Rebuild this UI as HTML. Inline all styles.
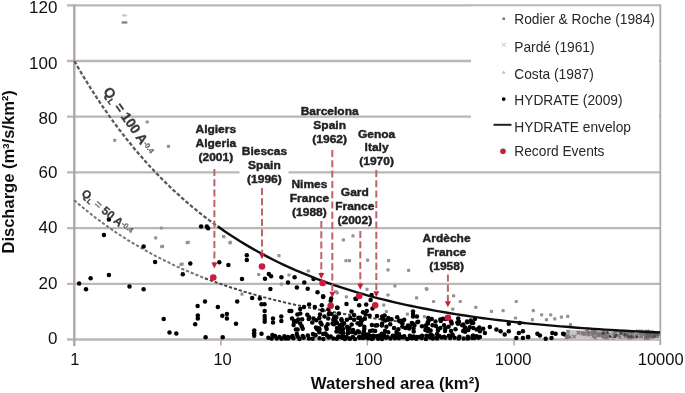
<!DOCTYPE html>
<html><head><meta charset="utf-8"><style>
html,body{margin:0;padding:0;background:#fff;}
body{width:685px;height:393px;overflow:hidden;position:relative;font-family:"Liberation Sans",sans-serif;}
svg{position:absolute;left:0;top:0;}
</style></head><body>
<svg width="685" height="393" viewBox="0 0 685 393" font-family="Liberation Sans, sans-serif">
<defs><filter id="b" x="0" y="0" width="1" height="1"><feGaussianBlur stdDeviation="0.55"/></filter></defs>
<g filter="url(#b)">
<rect width="685" height="393" fill="#fff"/>
<line x1="67" y1="339.5" x2="660.5" y2="339.5" stroke="#bcb6b5" stroke-width="2.3"/>
<line x1="67" y1="283.8" x2="660.5" y2="283.8" stroke="#bcb6b5" stroke-width="2.3"/>
<line x1="67" y1="228.1" x2="660.5" y2="228.1" stroke="#bcb6b5" stroke-width="2.3"/>
<line x1="67" y1="172.4" x2="660.5" y2="172.4" stroke="#bcb6b5" stroke-width="2.3"/>
<line x1="67" y1="116.7" x2="660.5" y2="116.7" stroke="#bcb6b5" stroke-width="2.3"/>
<line x1="67" y1="61.0" x2="660.5" y2="61.0" stroke="#bcb6b5" stroke-width="2.3"/>
<line x1="67" y1="5.3" x2="660.5" y2="5.3" stroke="#bcb6b5" stroke-width="2.3"/>
<line x1="74.3" y1="4.5" x2="74.3" y2="346" stroke="#b0a6a6" stroke-width="2.4"/>
<line x1="660.3" y1="4.5" x2="660.3" y2="345" stroke="#b0a8a8" stroke-width="1.8"/>
<line x1="220.9" y1="339" x2="220.9" y2="345.5" stroke="#b8a0a0" stroke-width="1.5"/>
<line x1="367.4" y1="339" x2="367.4" y2="345.5" stroke="#b8a0a0" stroke-width="1.5"/>
<line x1="514.0" y1="339" x2="514.0" y2="345.5" stroke="#b8a0a0" stroke-width="1.5"/>
<rect x="113.1" y="138.7" width="3.2" height="3.2" rx="0.8" fill="#9a9194"/>
<rect x="166.9" y="144.8" width="3.2" height="3.2" rx="0.8" fill="#9a9194"/>
<rect x="145.6" y="120.4" width="3.2" height="3.2" rx="0.8" fill="#9a9194"/>
<rect x="159.8" y="226.4" width="3.2" height="3.2" rx="0.8" fill="#9a9194"/>
<rect x="185.6" y="241.0" width="3.2" height="3.2" rx="0.8" fill="#9a9194"/>
<rect x="160.1" y="245.1" width="3.2" height="3.2" rx="0.8" fill="#9a9194"/>
<rect x="154.1" y="236.2" width="3.2" height="3.2" rx="0.8" fill="#9a9194"/>
<rect x="228.4" y="241.3" width="3.2" height="3.2" rx="0.8" fill="#9a9194"/>
<rect x="222.2" y="235.1" width="3.2" height="3.2" rx="0.8" fill="#9a9194"/>
<rect x="179.3" y="262.9" width="3.2" height="3.2" rx="0.8" fill="#9a9194"/>
<rect x="240.4" y="292.6" width="3.2" height="3.2" rx="0.8" fill="#9a9194"/>
<rect x="257.1" y="272.9" width="3.2" height="3.2" rx="0.8" fill="#9a9194"/>
<rect x="279.8" y="282.6" width="3.2" height="3.2" rx="0.8" fill="#9a9194"/>
<rect x="287.4" y="273.4" width="3.2" height="3.2" rx="0.8" fill="#9a9194"/>
<rect x="306.7" y="269.4" width="3.2" height="3.2" rx="0.8" fill="#9a9194"/>
<rect x="334.2" y="290.0" width="3.2" height="3.2" rx="0.8" fill="#9a9194"/>
<rect x="344.4" y="259.1" width="3.2" height="3.2" rx="0.8" fill="#9a9194"/>
<rect x="347.9" y="259.1" width="3.2" height="3.2" rx="0.8" fill="#9a9194"/>
<rect x="366.0" y="258.5" width="3.2" height="3.2" rx="0.8" fill="#9a9194"/>
<rect x="335.7" y="291.2" width="3.2" height="3.2" rx="0.8" fill="#9a9194"/>
<rect x="365.4" y="287.7" width="3.2" height="3.2" rx="0.8" fill="#9a9194"/>
<rect x="344.8" y="295.2" width="3.2" height="3.2" rx="0.8" fill="#9a9194"/>
<rect x="387.0" y="259.1" width="3.2" height="3.2" rx="0.8" fill="#9a9194"/>
<rect x="386.4" y="268.3" width="3.2" height="3.2" rx="0.8" fill="#9a9194"/>
<rect x="407.0" y="268.8" width="3.2" height="3.2" rx="0.8" fill="#9a9194"/>
<rect x="393.3" y="284.3" width="3.2" height="3.2" rx="0.8" fill="#9a9194"/>
<rect x="424.7" y="287.2" width="3.2" height="3.2" rx="0.8" fill="#9a9194"/>
<rect x="386.4" y="293.4" width="3.2" height="3.2" rx="0.8" fill="#9a9194"/>
<rect x="415.0" y="296.3" width="3.2" height="3.2" rx="0.8" fill="#9a9194"/>
<rect x="382.2" y="303.6" width="3.2" height="3.2" rx="0.8" fill="#9a9194"/>
<rect x="384.8" y="309.9" width="3.2" height="3.2" rx="0.8" fill="#9a9194"/>
<rect x="422.9" y="315.0" width="3.2" height="3.2" rx="0.8" fill="#9a9194"/>
<rect x="405.8" y="312.5" width="3.2" height="3.2" rx="0.8" fill="#9a9194"/>
<rect x="425.3" y="287.5" width="3.2" height="3.2" rx="0.8" fill="#9a9194"/>
<rect x="432.0" y="299.9" width="3.2" height="3.2" rx="0.8" fill="#9a9194"/>
<rect x="452.0" y="294.2" width="3.2" height="3.2" rx="0.8" fill="#9a9194"/>
<rect x="458.7" y="299.9" width="3.2" height="3.2" rx="0.8" fill="#9a9194"/>
<rect x="451.1" y="307.5" width="3.2" height="3.2" rx="0.8" fill="#9a9194"/>
<rect x="474.2" y="305.7" width="3.2" height="3.2" rx="0.8" fill="#9a9194"/>
<rect x="489.9" y="309.8" width="3.2" height="3.2" rx="0.8" fill="#9a9194"/>
<rect x="501.5" y="309.0" width="3.2" height="3.2" rx="0.8" fill="#9a9194"/>
<rect x="514.7" y="299.9" width="3.2" height="3.2" rx="0.8" fill="#9a9194"/>
<rect x="513.9" y="316.4" width="3.2" height="3.2" rx="0.8" fill="#9a9194"/>
<rect x="531.7" y="309.0" width="3.2" height="3.2" rx="0.8" fill="#9a9194"/>
<rect x="540.0" y="313.2" width="3.2" height="3.2" rx="0.8" fill="#9a9194"/>
<rect x="549.1" y="313.2" width="3.2" height="3.2" rx="0.8" fill="#9a9194"/>
<rect x="544.9" y="318.1" width="3.2" height="3.2" rx="0.8" fill="#9a9194"/>
<rect x="553.2" y="317.3" width="3.2" height="3.2" rx="0.8" fill="#9a9194"/>
<rect x="559.8" y="315.6" width="3.2" height="3.2" rx="0.8" fill="#9a9194"/>
<rect x="566.1" y="314.8" width="3.2" height="3.2" rx="0.8" fill="#9a9194"/>
<rect x="530.8" y="318.1" width="3.2" height="3.2" rx="0.8" fill="#9a9194"/>
<rect x="568.9" y="323.1" width="3.2" height="3.2" rx="0.8" fill="#9a9194"/>
<rect x="573.1" y="331.4" width="3.2" height="3.2" rx="0.8" fill="#9a9194"/>
<rect x="581.4" y="331.4" width="3.2" height="3.2" rx="0.8" fill="#9a9194"/>
<rect x="589.6" y="332.2" width="3.2" height="3.2" rx="0.8" fill="#9a9194"/>
<rect x="341.8" y="238.3" width="3.2" height="3.2" rx="0.8" fill="#9a9194"/>
<rect x="351.4" y="234.3" width="3.2" height="3.2" rx="0.8" fill="#9a9194"/>
<rect x="222.0" y="234.9" width="3.2" height="3.2" rx="0.8" fill="#9a9194"/>
<rect x="228.7" y="240.7" width="3.2" height="3.2" rx="0.8" fill="#9a9194"/>
<rect x="277.4" y="254.0" width="3.2" height="3.2" rx="0.8" fill="#9a9194"/>
<rect x="160.9" y="244.8" width="3.2" height="3.2" rx="0.8" fill="#9a9194"/>
<rect x="186.6" y="240.8" width="3.2" height="3.2" rx="0.8" fill="#9a9194"/>
<rect x="180.5" y="262.5" width="3.2" height="3.2" rx="0.8" fill="#9a9194"/>
<path d="M74.3,61.0 L76.2,64.2 L78.0,67.4 L79.9,70.6 L81.7,73.7 L83.6,76.8 L85.5,79.9 L87.3,82.9 L89.2,85.8 L91.0,88.8 L92.9,91.7 L94.7,94.6 L96.6,97.4 L98.5,100.2 L100.3,103.0 L102.2,105.8 L104.0,108.5 L105.9,111.2 L107.8,113.8 L109.6,116.4 L111.5,119.0 L113.3,121.6 L115.2,124.1 L117.1,126.6 L118.9,129.1 L120.8,131.5 L122.6,133.9 L124.5,136.3 L126.3,138.7 L128.2,141.0 L130.1,143.3 L131.9,145.6 L133.8,147.9 L135.6,150.1 L137.5,152.3 L139.4,154.5 L141.2,156.6 L143.1,158.7 L144.9,160.8 L146.8,162.9 L148.6,165.0 L150.5,167.0 L152.4,169.0 L154.2,171.0 L156.1,172.9 L157.9,174.9 L159.8,176.8 L161.7,178.7 L163.5,180.5 L165.4,182.4 L167.2,184.2 L169.1,186.0 L171.0,187.8 L172.8,189.6 L174.7,191.3 L176.5,193.0 L178.4,194.7 L180.2,196.4 L182.1,198.1 L184.0,199.7 L185.8,201.3 L187.7,202.9 L189.5,204.5 L191.4,206.1 L193.3,207.6 L195.1,209.2 L197.0,210.7 L198.8,212.2 L200.7,213.7 L202.6,215.1 L204.4,216.6 L206.3,218.0 L208.1,219.4 L210.0,220.8 L211.8,222.2 L213.7,223.5 L215.6,224.9 L217.4,226.2 L219.3,227.5 L221.1,228.8 L223.0,230.1" fill="none" stroke="#5e5858" stroke-width="2.3" stroke-dasharray="3.8 2"/>
<path d="M74.3,200.2 L75.9,201.7 L77.6,203.1 L79.2,204.5 L80.8,205.9 L82.5,207.2 L84.1,208.6 L85.7,209.9 L87.4,211.2 L89.0,212.5 L90.6,213.8 L92.3,215.1 L93.9,216.4 L95.5,217.7 L97.2,218.9 L98.8,220.1 L100.4,221.3 L102.1,222.6 L103.7,223.7 L105.3,224.9 L107.0,226.1 L108.6,227.3 L110.2,228.4 L111.9,229.5 L113.5,230.7 L115.1,231.8 L116.8,232.9 L118.4,234.0 L120.0,235.0 L121.7,236.1 L123.3,237.2 L124.9,238.2 L126.6,239.2 L128.2,240.3 L129.8,241.3 L131.5,242.3 L133.1,243.3 L134.7,244.3 L136.4,245.2 L138.0,246.2 L139.6,247.2 L141.3,248.1 L142.9,249.0 L144.6,250.0 L146.2,250.9 L147.8,251.8 L149.5,252.7 L151.1,253.6 L152.7,254.4 L154.4,255.3 L156.0,256.2 L157.6,257.0 L159.3,257.9 L160.9,258.7 L162.5,259.5 L164.2,260.3 L165.8,261.1 L167.4,261.9 L169.1,262.7 L170.7,263.5 L172.3,264.3 L174.0,265.1 L175.6,265.8 L177.2,266.6 L178.9,267.3 L180.5,268.1 L182.1,268.8 L183.8,269.5 L185.4,270.2 L187.0,270.9 L188.7,271.6 L190.3,272.3 L191.9,273.0 L193.6,273.7 L195.2,274.4 L196.8,275.0 L198.5,275.7 L200.1,276.3 L201.7,277.0 L203.4,277.6 L205.0,278.3" fill="none" stroke="#7a7272" stroke-width="2" stroke-dasharray="3.2 1.9"/>
<path d="M205.0,278.3 L207.4,279.2 L209.9,280.1 L212.3,281.0 L214.8,281.9 L217.2,282.8 L219.6,283.6 L222.1,284.5 L224.5,285.3 L226.9,286.1 L229.4,287.0 L231.8,287.8 L234.2,288.5 L236.7,289.3 L239.1,290.1 L241.6,290.8 L244.0,291.6 L246.4,292.3 L248.9,293.0 L251.3,293.7 L253.8,294.4 L256.2,295.1 L258.6,295.8 L261.1,296.4 L263.5,297.1 L265.9,297.7 L268.4,298.4 L270.8,299.0 L273.2,299.6 L275.7,300.2 L278.1,300.8 L280.6,301.4 L283.0,302.0 L285.4,302.6 L287.9,303.1 L290.3,303.7 L292.8,304.2 L295.2,304.8 L297.6,305.3 L300.1,305.8 L302.5,306.3 L304.9,306.8 L307.4,307.3 L309.8,307.8 L312.2,308.3 L314.7,308.8 L317.1,309.2 L319.6,309.7 L322.0,310.1 L324.4,310.6 L326.9,311.0 L329.3,311.5 L331.8,311.9 L334.2,312.3 L336.6,312.7 L339.1,313.1 L341.5,313.5 L343.9,313.9 L346.4,314.3 L348.8,314.7 L351.2,315.1 L353.7,315.4 L356.1,315.8 L358.6,316.2 L361.0,316.5 L363.4,316.9 L365.9,317.2 L368.3,317.6 L370.8,317.9 L373.2,318.2 L375.6,318.5 L378.1,318.9 L380.5,319.2 L382.9,319.5 L385.4,319.8 L387.8,320.1 L390.2,320.4 L392.7,320.7 L395.1,321.0 L397.6,321.2 L400.0,321.5" fill="none" stroke="#4a4444" stroke-width="2" stroke-dasharray="3.2 1.9"/>
<circle cx="108.9" cy="219.5" r="2.25" fill="#000"/>
<circle cx="103.9" cy="235.1" r="2.25" fill="#000"/>
<circle cx="143.6" cy="246.6" r="2.25" fill="#000"/>
<circle cx="201.1" cy="226.5" r="2.25" fill="#000"/>
<circle cx="206.8" cy="226.5" r="2.25" fill="#000"/>
<circle cx="208.1" cy="228.3" r="2.25" fill="#000"/>
<circle cx="79.1" cy="283.6" r="2.25" fill="#000"/>
<circle cx="90.6" cy="278.3" r="2.25" fill="#000"/>
<circle cx="86.0" cy="289.3" r="2.25" fill="#000"/>
<circle cx="108.9" cy="275.1" r="2.25" fill="#000"/>
<circle cx="129.5" cy="286.6" r="2.25" fill="#000"/>
<circle cx="143.6" cy="289.3" r="2.25" fill="#000"/>
<circle cx="155.1" cy="261.9" r="2.25" fill="#000"/>
<circle cx="163.7" cy="319.0" r="2.25" fill="#000"/>
<circle cx="169.5" cy="332.5" r="2.25" fill="#000"/>
<circle cx="176.3" cy="333.4" r="2.25" fill="#000"/>
<circle cx="190.3" cy="263.5" r="2.25" fill="#000"/>
<circle cx="182.8" cy="274.2" r="2.25" fill="#000"/>
<circle cx="219.3" cy="262.3" r="2.25" fill="#000"/>
<circle cx="228.4" cy="265.0" r="2.25" fill="#000"/>
<circle cx="246.8" cy="255.3" r="2.25" fill="#000"/>
<circle cx="246.8" cy="260.1" r="2.25" fill="#000"/>
<circle cx="242.0" cy="279.0" r="2.25" fill="#000"/>
<circle cx="205.0" cy="301.4" r="2.25" fill="#000"/>
<circle cx="197.6" cy="306.1" r="2.25" fill="#000"/>
<circle cx="217.8" cy="307.1" r="2.25" fill="#000"/>
<circle cx="197.8" cy="315.5" r="2.25" fill="#000"/>
<circle cx="197.8" cy="318.5" r="2.25" fill="#000"/>
<circle cx="222.3" cy="315.7" r="2.25" fill="#000"/>
<circle cx="226.9" cy="314.0" r="2.25" fill="#000"/>
<circle cx="226.9" cy="318.4" r="2.25" fill="#000"/>
<circle cx="237.2" cy="301.5" r="2.25" fill="#000"/>
<circle cx="195.2" cy="324.3" r="2.25" fill="#000"/>
<circle cx="236.0" cy="323.7" r="2.25" fill="#000"/>
<circle cx="205.6" cy="337.2" r="2.25" fill="#000"/>
<circle cx="222.7" cy="337.2" r="2.25" fill="#000"/>
<circle cx="268.8" cy="273.9" r="2.25" fill="#000"/>
<circle cx="271.1" cy="276.2" r="2.25" fill="#000"/>
<circle cx="265.0" cy="278.8" r="2.25" fill="#000"/>
<circle cx="281.4" cy="277.3" r="2.25" fill="#000"/>
<circle cx="288.0" cy="282.5" r="2.25" fill="#000"/>
<circle cx="270.4" cy="289.1" r="2.25" fill="#000"/>
<circle cx="252.2" cy="298.1" r="2.25" fill="#000"/>
<circle cx="259.8" cy="298.6" r="2.25" fill="#000"/>
<circle cx="261.5" cy="304.2" r="2.25" fill="#000"/>
<circle cx="264.5" cy="304.2" r="2.25" fill="#000"/>
<circle cx="264.7" cy="310.9" r="2.25" fill="#000"/>
<circle cx="264.7" cy="316.0" r="2.25" fill="#000"/>
<circle cx="264.7" cy="319.0" r="2.25" fill="#000"/>
<circle cx="264.7" cy="321.7" r="2.25" fill="#000"/>
<circle cx="273.0" cy="318.5" r="2.25" fill="#000"/>
<circle cx="273.0" cy="322.4" r="2.25" fill="#000"/>
<circle cx="281.3" cy="316.6" r="2.25" fill="#000"/>
<circle cx="281.3" cy="321.1" r="2.25" fill="#000"/>
<circle cx="289.5" cy="310.9" r="2.25" fill="#000"/>
<circle cx="294.0" cy="321.7" r="2.25" fill="#000"/>
<circle cx="254.2" cy="330.6" r="2.25" fill="#000"/>
<circle cx="254.2" cy="333.2" r="2.25" fill="#000"/>
<circle cx="254.2" cy="335.7" r="2.25" fill="#000"/>
<circle cx="261.5" cy="333.8" r="2.25" fill="#000"/>
<circle cx="272.4" cy="335.0" r="2.25" fill="#000"/>
<circle cx="275.0" cy="336.0" r="2.25" fill="#000"/>
<circle cx="279.4" cy="337.0" r="2.25" fill="#000"/>
<circle cx="284.4" cy="336.3" r="2.25" fill="#000"/>
<circle cx="288.0" cy="337.0" r="2.25" fill="#000"/>
<circle cx="292.0" cy="337.0" r="2.25" fill="#000"/>
<circle cx="294.6" cy="277.3" r="2.25" fill="#000"/>
<circle cx="304.3" cy="282.5" r="2.25" fill="#000"/>
<circle cx="296.9" cy="287.6" r="2.25" fill="#000"/>
<circle cx="307.7" cy="288.8" r="2.25" fill="#000"/>
<circle cx="313.5" cy="279.0" r="2.25" fill="#000"/>
<circle cx="317.5" cy="292.2" r="2.25" fill="#000"/>
<circle cx="323.2" cy="296.2" r="2.25" fill="#000"/>
<circle cx="331.2" cy="298.5" r="2.25" fill="#000"/>
<circle cx="323.1" cy="296.9" r="2.25" fill="#000"/>
<circle cx="330.7" cy="300.7" r="2.25" fill="#000"/>
<circle cx="337.1" cy="307.7" r="2.25" fill="#000"/>
<circle cx="309.1" cy="304.5" r="2.25" fill="#000"/>
<circle cx="304.0" cy="307.1" r="2.25" fill="#000"/>
<circle cx="300.2" cy="309.0" r="2.25" fill="#000"/>
<circle cx="314.8" cy="307.1" r="2.25" fill="#000"/>
<circle cx="321.8" cy="305.2" r="2.25" fill="#000"/>
<circle cx="322.4" cy="310.3" r="2.25" fill="#000"/>
<circle cx="291.3" cy="310.9" r="2.25" fill="#000"/>
<circle cx="309.1" cy="317.3" r="2.25" fill="#000"/>
<circle cx="313.5" cy="318.5" r="2.25" fill="#000"/>
<circle cx="319.3" cy="317.9" r="2.25" fill="#000"/>
<circle cx="324.4" cy="316.6" r="2.25" fill="#000"/>
<circle cx="312.3" cy="322.4" r="2.25" fill="#000"/>
<circle cx="320.5" cy="322.4" r="2.25" fill="#000"/>
<circle cx="328.2" cy="318.5" r="2.25" fill="#000"/>
<circle cx="335.2" cy="316.6" r="2.25" fill="#000"/>
<circle cx="333.9" cy="324.3" r="2.25" fill="#000"/>
<circle cx="337.1" cy="328.1" r="2.25" fill="#000"/>
<circle cx="294.5" cy="321.1" r="2.25" fill="#000"/>
<circle cx="300.2" cy="323.6" r="2.25" fill="#000"/>
<circle cx="297.6" cy="329.4" r="2.25" fill="#000"/>
<circle cx="302.7" cy="328.7" r="2.25" fill="#000"/>
<circle cx="292.5" cy="336.0" r="2.25" fill="#000"/>
<circle cx="297.6" cy="336.6" r="2.25" fill="#000"/>
<circle cx="302.7" cy="336.0" r="2.25" fill="#000"/>
<circle cx="307.8" cy="335.4" r="2.25" fill="#000"/>
<circle cx="312.9" cy="334.1" r="2.25" fill="#000"/>
<circle cx="315.4" cy="335.4" r="2.25" fill="#000"/>
<circle cx="319.3" cy="332.3" r="2.25" fill="#000"/>
<circle cx="323.1" cy="334.1" r="2.25" fill="#000"/>
<circle cx="327.0" cy="335.4" r="2.25" fill="#000"/>
<circle cx="330.7" cy="336.6" r="2.25" fill="#000"/>
<circle cx="338.3" cy="336.6" r="2.25" fill="#000"/>
<circle cx="317.0" cy="329.0" r="2.25" fill="#000"/>
<circle cx="326.0" cy="327.0" r="2.25" fill="#000"/>
<circle cx="371.6" cy="295.0" r="2.25" fill="#000"/>
<circle cx="356.2" cy="299.0" r="2.25" fill="#000"/>
<circle cx="355.4" cy="298.8" r="2.25" fill="#000"/>
<circle cx="370.6" cy="300.1" r="2.25" fill="#000"/>
<circle cx="346.5" cy="303.9" r="2.25" fill="#000"/>
<circle cx="359.2" cy="305.2" r="2.25" fill="#000"/>
<circle cx="366.2" cy="304.5" r="2.25" fill="#000"/>
<circle cx="337.5" cy="307.7" r="2.25" fill="#000"/>
<circle cx="372.5" cy="308.4" r="2.25" fill="#000"/>
<circle cx="363.0" cy="312.2" r="2.25" fill="#000"/>
<circle cx="366.8" cy="310.9" r="2.25" fill="#000"/>
<circle cx="338.8" cy="313.4" r="2.25" fill="#000"/>
<circle cx="351.5" cy="311.5" r="2.25" fill="#000"/>
<circle cx="336.3" cy="317.3" r="2.25" fill="#000"/>
<circle cx="341.4" cy="319.2" r="2.25" fill="#000"/>
<circle cx="350.3" cy="317.9" r="2.25" fill="#000"/>
<circle cx="354.1" cy="319.8" r="2.25" fill="#000"/>
<circle cx="361.7" cy="320.4" r="2.25" fill="#000"/>
<circle cx="377.0" cy="316.0" r="2.25" fill="#000"/>
<circle cx="382.7" cy="318.5" r="2.25" fill="#000"/>
<circle cx="371.9" cy="324.9" r="2.25" fill="#000"/>
<circle cx="375.7" cy="325.5" r="2.25" fill="#000"/>
<circle cx="382.1" cy="323.6" r="2.25" fill="#000"/>
<circle cx="364.3" cy="326.8" r="2.25" fill="#000"/>
<circle cx="347.1" cy="326.8" r="2.25" fill="#000"/>
<circle cx="342.6" cy="324.9" r="2.25" fill="#000"/>
<circle cx="337.5" cy="328.1" r="2.25" fill="#000"/>
<circle cx="340.1" cy="331.9" r="2.25" fill="#000"/>
<circle cx="347.7" cy="333.2" r="2.25" fill="#000"/>
<circle cx="355.4" cy="333.2" r="2.25" fill="#000"/>
<circle cx="357.9" cy="331.3" r="2.25" fill="#000"/>
<circle cx="363.0" cy="334.4" r="2.25" fill="#000"/>
<circle cx="368.1" cy="334.4" r="2.25" fill="#000"/>
<circle cx="373.2" cy="335.7" r="2.25" fill="#000"/>
<circle cx="378.9" cy="335.7" r="2.25" fill="#000"/>
<circle cx="340.1" cy="337.0" r="2.25" fill="#000"/>
<circle cx="346.5" cy="337.0" r="2.25" fill="#000"/>
<circle cx="352.8" cy="337.0" r="2.25" fill="#000"/>
<circle cx="359.2" cy="337.0" r="2.25" fill="#000"/>
<circle cx="366.8" cy="337.6" r="2.25" fill="#000"/>
<circle cx="382.5" cy="318.5" r="2.25" fill="#000"/>
<circle cx="385.1" cy="320.4" r="2.25" fill="#000"/>
<circle cx="388.3" cy="317.9" r="2.25" fill="#000"/>
<circle cx="391.5" cy="319.2" r="2.25" fill="#000"/>
<circle cx="390.2" cy="324.3" r="2.25" fill="#000"/>
<circle cx="386.4" cy="326.8" r="2.25" fill="#000"/>
<circle cx="381.9" cy="325.5" r="2.25" fill="#000"/>
<circle cx="394.0" cy="328.1" r="2.25" fill="#000"/>
<circle cx="396.5" cy="331.9" r="2.25" fill="#000"/>
<circle cx="399.1" cy="320.4" r="2.25" fill="#000"/>
<circle cx="401.6" cy="322.4" r="2.25" fill="#000"/>
<circle cx="404.2" cy="319.8" r="2.25" fill="#000"/>
<circle cx="402.3" cy="326.8" r="2.25" fill="#000"/>
<circle cx="405.4" cy="328.1" r="2.25" fill="#000"/>
<circle cx="408.0" cy="325.5" r="2.25" fill="#000"/>
<circle cx="413.0" cy="311.5" r="2.25" fill="#000"/>
<circle cx="413.0" cy="314.0" r="2.25" fill="#000"/>
<circle cx="413.0" cy="316.6" r="2.25" fill="#000"/>
<circle cx="414.4" cy="325.5" r="2.25" fill="#000"/>
<circle cx="411.8" cy="322.9" r="2.25" fill="#000"/>
<circle cx="416.9" cy="316.6" r="2.25" fill="#000"/>
<circle cx="418.2" cy="321.7" r="2.25" fill="#000"/>
<circle cx="422.0" cy="326.2" r="2.25" fill="#000"/>
<circle cx="425.8" cy="325.5" r="2.25" fill="#000"/>
<circle cx="427.7" cy="322.4" r="2.25" fill="#000"/>
<circle cx="428.3" cy="317.9" r="2.25" fill="#000"/>
<circle cx="381.3" cy="335.7" r="2.25" fill="#000"/>
<circle cx="387.6" cy="337.0" r="2.25" fill="#000"/>
<circle cx="392.7" cy="335.7" r="2.25" fill="#000"/>
<circle cx="395.3" cy="337.6" r="2.25" fill="#000"/>
<circle cx="404.2" cy="336.3" r="2.25" fill="#000"/>
<circle cx="409.9" cy="335.7" r="2.25" fill="#000"/>
<circle cx="416.9" cy="337.0" r="2.25" fill="#000"/>
<circle cx="422.0" cy="335.7" r="2.25" fill="#000"/>
<circle cx="426.4" cy="335.7" r="2.25" fill="#000"/>
<circle cx="399.0" cy="334.0" r="2.25" fill="#000"/>
<circle cx="385.0" cy="331.0" r="2.25" fill="#000"/>
<circle cx="428.8" cy="320.6" r="2.25" fill="#000"/>
<circle cx="432.6" cy="325.3" r="2.25" fill="#000"/>
<circle cx="427.9" cy="331.1" r="2.25" fill="#000"/>
<circle cx="435.5" cy="321.5" r="2.25" fill="#000"/>
<circle cx="440.3" cy="319.6" r="2.25" fill="#000"/>
<circle cx="444.1" cy="325.3" r="2.25" fill="#000"/>
<circle cx="445.0" cy="331.1" r="2.25" fill="#000"/>
<circle cx="451.7" cy="323.4" r="2.25" fill="#000"/>
<circle cx="457.4" cy="322.5" r="2.25" fill="#000"/>
<circle cx="455.5" cy="329.2" r="2.25" fill="#000"/>
<circle cx="462.2" cy="325.3" r="2.25" fill="#000"/>
<circle cx="467.0" cy="321.5" r="2.25" fill="#000"/>
<circle cx="470.8" cy="320.6" r="2.25" fill="#000"/>
<circle cx="469.8" cy="327.3" r="2.25" fill="#000"/>
<circle cx="463.2" cy="331.1" r="2.25" fill="#000"/>
<circle cx="432.6" cy="335.8" r="2.25" fill="#000"/>
<circle cx="436.5" cy="337.7" r="2.25" fill="#000"/>
<circle cx="444.1" cy="336.8" r="2.25" fill="#000"/>
<circle cx="448.9" cy="335.8" r="2.25" fill="#000"/>
<circle cx="459.4" cy="336.8" r="2.25" fill="#000"/>
<circle cx="467.9" cy="336.8" r="2.25" fill="#000"/>
<circle cx="472.7" cy="335.8" r="2.25" fill="#000"/>
<circle cx="438.0" cy="329.0" r="2.25" fill="#000"/>
<circle cx="451.0" cy="331.0" r="2.25" fill="#000"/>
<circle cx="471.7" cy="323.0" r="2.25" fill="#000"/>
<circle cx="473.3" cy="327.9" r="2.25" fill="#000"/>
<circle cx="476.6" cy="329.6" r="2.25" fill="#000"/>
<circle cx="479.9" cy="331.2" r="2.25" fill="#000"/>
<circle cx="483.2" cy="328.8" r="2.25" fill="#000"/>
<circle cx="484.9" cy="332.9" r="2.25" fill="#000"/>
<circle cx="489.8" cy="327.1" r="2.25" fill="#000"/>
<circle cx="496.4" cy="329.6" r="2.25" fill="#000"/>
<circle cx="500.6" cy="331.2" r="2.25" fill="#000"/>
<circle cx="504.7" cy="334.5" r="2.25" fill="#000"/>
<circle cx="508.8" cy="323.8" r="2.25" fill="#000"/>
<circle cx="508.8" cy="331.2" r="2.25" fill="#000"/>
<circle cx="518.8" cy="332.9" r="2.25" fill="#000"/>
<circle cx="522.9" cy="331.2" r="2.25" fill="#000"/>
<circle cx="516.3" cy="337.9" r="2.25" fill="#000"/>
<circle cx="522.9" cy="337.9" r="2.25" fill="#000"/>
<circle cx="527.9" cy="337.0" r="2.25" fill="#000"/>
<circle cx="476.6" cy="336.2" r="2.25" fill="#000"/>
<circle cx="479.9" cy="337.0" r="2.25" fill="#000"/>
<circle cx="519.6" cy="323.0" r="2.25" fill="#000"/>
<circle cx="528.3" cy="337.1" r="2.25" fill="#000"/>
<circle cx="537.4" cy="333.8" r="2.25" fill="#000"/>
<circle cx="539.9" cy="335.5" r="2.25" fill="#000"/>
<circle cx="545.7" cy="338.8" r="2.25" fill="#000"/>
<circle cx="552.3" cy="333.0" r="2.25" fill="#000"/>
<circle cx="555.6" cy="333.8" r="2.25" fill="#000"/>
<circle cx="551.5" cy="337.9" r="2.25" fill="#000"/>
<circle cx="563.1" cy="333.8" r="2.25" fill="#000"/>
<circle cx="564.7" cy="334.6" r="2.25" fill="#000"/>
<circle cx="328.4" cy="309.6" r="2.25" fill="#000"/>
<circle cx="331.6" cy="314.1" r="2.25" fill="#000"/>
<circle cx="335.4" cy="320.5" r="2.25" fill="#000"/>
<circle cx="327.7" cy="324.3" r="2.25" fill="#000"/>
<circle cx="340.5" cy="328.1" r="2.25" fill="#000"/>
<circle cx="349.4" cy="328.1" r="2.25" fill="#000"/>
<circle cx="351.9" cy="331.9" r="2.25" fill="#000"/>
<circle cx="316.0" cy="327.6" r="2.25" fill="#000"/>
<circle cx="341.0" cy="325.1" r="2.25" fill="#000"/>
<circle cx="318.9" cy="328.3" r="2.25" fill="#000"/>
<circle cx="301.8" cy="326.3" r="2.25" fill="#000"/>
<circle cx="325.4" cy="333.6" r="2.25" fill="#000"/>
<circle cx="297.0" cy="320.9" r="2.25" fill="#000"/>
<circle cx="296.8" cy="334.1" r="2.25" fill="#000"/>
<circle cx="328.8" cy="314.1" r="2.25" fill="#000"/>
<circle cx="344.1" cy="338.1" r="2.25" fill="#000"/>
<circle cx="326.7" cy="329.0" r="2.25" fill="#000"/>
<circle cx="300.3" cy="313.4" r="2.25" fill="#000"/>
<circle cx="320.0" cy="314.5" r="2.25" fill="#000"/>
<circle cx="302.1" cy="319.3" r="2.25" fill="#000"/>
<circle cx="293.6" cy="325.1" r="2.25" fill="#000"/>
<circle cx="315.3" cy="334.9" r="2.25" fill="#000"/>
<circle cx="319.5" cy="329.6" r="2.25" fill="#000"/>
<circle cx="318.5" cy="330.2" r="2.25" fill="#000"/>
<circle cx="316.2" cy="320.2" r="2.25" fill="#000"/>
<circle cx="344.9" cy="338.9" r="2.25" fill="#000"/>
<circle cx="336.5" cy="331.4" r="2.25" fill="#000"/>
<circle cx="308.7" cy="319.0" r="2.25" fill="#000"/>
<circle cx="307.3" cy="314.8" r="2.25" fill="#000"/>
<circle cx="332.6" cy="323.4" r="2.25" fill="#000"/>
<circle cx="336.9" cy="323.0" r="2.25" fill="#000"/>
<circle cx="342.8" cy="335.0" r="2.25" fill="#000"/>
<circle cx="292.0" cy="318.5" r="2.25" fill="#000"/>
<circle cx="340.2" cy="325.2" r="2.25" fill="#000"/>
<circle cx="344.0" cy="323.3" r="2.25" fill="#000"/>
<circle cx="295.9" cy="329.4" r="2.25" fill="#000"/>
<circle cx="333.3" cy="320.0" r="2.25" fill="#000"/>
<circle cx="296.6" cy="321.6" r="2.25" fill="#000"/>
<circle cx="343.1" cy="332.7" r="2.25" fill="#000"/>
<circle cx="298.3" cy="319.4" r="2.25" fill="#000"/>
<circle cx="297.4" cy="314.6" r="2.25" fill="#000"/>
<circle cx="334.2" cy="317.6" r="2.25" fill="#000"/>
<circle cx="321.6" cy="324.6" r="2.25" fill="#000"/>
<circle cx="359.1" cy="332.3" r="2.25" fill="#000"/>
<circle cx="353.1" cy="330.1" r="2.25" fill="#000"/>
<circle cx="351.7" cy="324.5" r="2.25" fill="#000"/>
<circle cx="361.3" cy="320.7" r="2.25" fill="#000"/>
<circle cx="437.1" cy="334.1" r="2.25" fill="#000"/>
<circle cx="370.4" cy="336.1" r="2.25" fill="#000"/>
<circle cx="361.1" cy="323.9" r="2.25" fill="#000"/>
<circle cx="425.4" cy="330.0" r="2.25" fill="#000"/>
<circle cx="350.0" cy="338.7" r="2.25" fill="#000"/>
<circle cx="361.3" cy="320.5" r="2.25" fill="#000"/>
<circle cx="417.3" cy="322.2" r="2.25" fill="#000"/>
<circle cx="369.6" cy="315.8" r="2.25" fill="#000"/>
<circle cx="349.0" cy="328.6" r="2.25" fill="#000"/>
<circle cx="364.3" cy="329.0" r="2.25" fill="#000"/>
<circle cx="377.2" cy="325.3" r="2.25" fill="#000"/>
<circle cx="435.9" cy="326.1" r="2.25" fill="#000"/>
<circle cx="397.5" cy="335.7" r="2.25" fill="#000"/>
<circle cx="358.3" cy="317.9" r="2.25" fill="#000"/>
<circle cx="430.8" cy="334.4" r="2.25" fill="#000"/>
<circle cx="364.9" cy="318.7" r="2.25" fill="#000"/>
<circle cx="413.9" cy="337.5" r="2.25" fill="#000"/>
<circle cx="359.7" cy="337.8" r="2.25" fill="#000"/>
<circle cx="428.2" cy="329.1" r="2.25" fill="#000"/>
<circle cx="382.1" cy="316.6" r="2.25" fill="#000"/>
<circle cx="343.9" cy="338.1" r="2.25" fill="#000"/>
<circle cx="363.8" cy="331.6" r="2.25" fill="#000"/>
<circle cx="365.7" cy="334.6" r="2.25" fill="#000"/>
<circle cx="399.6" cy="321.3" r="2.25" fill="#000"/>
<circle cx="357.5" cy="332.0" r="2.25" fill="#000"/>
<circle cx="346.9" cy="319.7" r="2.25" fill="#000"/>
<circle cx="395.9" cy="335.3" r="2.25" fill="#000"/>
<circle cx="401.4" cy="321.0" r="2.25" fill="#000"/>
<circle cx="431.7" cy="319.1" r="2.25" fill="#000"/>
<circle cx="341.7" cy="320.7" r="2.25" fill="#000"/>
<circle cx="384.6" cy="315.5" r="2.25" fill="#000"/>
<circle cx="357.6" cy="323.2" r="2.25" fill="#000"/>
<circle cx="397.2" cy="317.3" r="2.25" fill="#000"/>
<circle cx="376.2" cy="336.3" r="2.25" fill="#000"/>
<circle cx="438.0" cy="330.4" r="2.25" fill="#000"/>
<circle cx="409.1" cy="328.6" r="2.25" fill="#000"/>
<circle cx="354.0" cy="314.9" r="2.25" fill="#000"/>
<circle cx="341.8" cy="336.8" r="2.25" fill="#000"/>
<circle cx="410.1" cy="338.1" r="2.25" fill="#000"/>
<circle cx="342.1" cy="329.9" r="2.25" fill="#000"/>
<circle cx="388.2" cy="332.3" r="2.25" fill="#000"/>
<circle cx="371.9" cy="339.0" r="2.25" fill="#000"/>
<circle cx="347.5" cy="327.7" r="2.25" fill="#000"/>
<circle cx="413.7" cy="336.5" r="2.25" fill="#000"/>
<circle cx="413.7" cy="331.6" r="2.25" fill="#000"/>
<circle cx="419.3" cy="336.9" r="2.25" fill="#000"/>
<circle cx="375.2" cy="331.1" r="2.25" fill="#000"/>
<circle cx="430.1" cy="335.8" r="2.25" fill="#000"/>
<circle cx="381.7" cy="333.8" r="2.25" fill="#000"/>
<circle cx="426.3" cy="328.3" r="2.25" fill="#000"/>
<circle cx="402.5" cy="323.6" r="2.25" fill="#000"/>
<circle cx="398.3" cy="329.2" r="2.25" fill="#000"/>
<circle cx="348.0" cy="330.0" r="2.25" fill="#000"/>
<circle cx="439.3" cy="336.0" r="2.25" fill="#000"/>
<circle cx="412.8" cy="323.7" r="2.25" fill="#000"/>
<circle cx="413.5" cy="328.5" r="2.25" fill="#000"/>
<circle cx="384.1" cy="335.0" r="2.25" fill="#000"/>
<circle cx="348.4" cy="332.8" r="2.25" fill="#000"/>
<circle cx="343.0" cy="329.0" r="2.25" fill="#000"/>
<circle cx="388.1" cy="319.8" r="2.25" fill="#000"/>
<circle cx="409.8" cy="326.4" r="2.25" fill="#000"/>
<circle cx="401.5" cy="337.0" r="2.25" fill="#000"/>
<circle cx="365.6" cy="314.3" r="2.25" fill="#000"/>
<circle cx="370.1" cy="331.0" r="2.25" fill="#000"/>
<circle cx="360.3" cy="318.2" r="2.25" fill="#000"/>
<circle cx="430.6" cy="330.5" r="2.25" fill="#000"/>
<circle cx="384.2" cy="336.3" r="2.25" fill="#000"/>
<circle cx="372.7" cy="330.6" r="2.25" fill="#000"/>
<circle cx="359.9" cy="324.8" r="2.25" fill="#000"/>
<circle cx="420.6" cy="336.9" r="2.25" fill="#000"/>
<circle cx="428.0" cy="323.6" r="2.25" fill="#000"/>
<circle cx="463.3" cy="324.6" r="2.25" fill="#000"/>
<circle cx="445.4" cy="328.4" r="2.25" fill="#000"/>
<circle cx="473.5" cy="335.8" r="2.25" fill="#000"/>
<circle cx="468.4" cy="338.0" r="2.25" fill="#000"/>
<circle cx="451.1" cy="321.6" r="2.25" fill="#000"/>
<circle cx="458.0" cy="323.8" r="2.25" fill="#000"/>
<circle cx="448.6" cy="326.7" r="2.25" fill="#000"/>
<circle cx="465.0" cy="328.4" r="2.25" fill="#000"/>
<circle cx="452.6" cy="335.6" r="2.25" fill="#000"/>
<circle cx="479.3" cy="327.5" r="2.25" fill="#000"/>
<circle cx="443.0" cy="318.7" r="2.25" fill="#000"/>
<circle cx="474.9" cy="318.9" r="2.25" fill="#000"/>
<circle cx="468.3" cy="330.0" r="2.25" fill="#000"/>
<circle cx="452.4" cy="334.6" r="2.25" fill="#000"/>
<circle cx="440.8" cy="320.9" r="2.25" fill="#000"/>
<circle cx="458.2" cy="318.5" r="2.25" fill="#000"/>
<circle cx="473.2" cy="323.0" r="2.25" fill="#000"/>
<circle cx="445.6" cy="319.0" r="2.25" fill="#000"/>
<circle cx="465.2" cy="327.4" r="2.25" fill="#000"/>
<circle cx="465.2" cy="331.8" r="2.25" fill="#000"/>
<circle cx="472.3" cy="338.1" r="2.25" fill="#000"/>
<circle cx="467.4" cy="322.2" r="2.25" fill="#000"/>
<circle cx="459.0" cy="321.8" r="2.25" fill="#000"/>
<circle cx="440.4" cy="327.9" r="2.25" fill="#000"/>
<circle cx="268.4" cy="337.7" r="2.25" fill="#000"/>
<circle cx="271.7" cy="338.5" r="2.25" fill="#000"/>
<circle cx="276.8" cy="338.6" r="2.25" fill="#000"/>
<circle cx="281.5" cy="338.8" r="2.25" fill="#000"/>
<circle cx="285.4" cy="338.6" r="2.25" fill="#000"/>
<circle cx="288.2" cy="338.4" r="2.25" fill="#000"/>
<circle cx="293.4" cy="338.3" r="2.25" fill="#000"/>
<circle cx="299.5" cy="338.9" r="2.25" fill="#000"/>
<circle cx="303.6" cy="337.7" r="2.25" fill="#000"/>
<circle cx="308.9" cy="338.4" r="2.25" fill="#000"/>
<circle cx="312.6" cy="338.8" r="2.25" fill="#000"/>
<circle cx="319.6" cy="338.3" r="2.25" fill="#000"/>
<circle cx="323.4" cy="338.9" r="2.25" fill="#000"/>
<circle cx="328.6" cy="337.5" r="2.25" fill="#000"/>
<circle cx="333.4" cy="338.6" r="2.25" fill="#000"/>
<circle cx="336.9" cy="338.7" r="2.25" fill="#000"/>
<circle cx="342.0" cy="337.7" r="2.25" fill="#000"/>
<circle cx="346.2" cy="337.6" r="2.25" fill="#000"/>
<circle cx="349.4" cy="338.6" r="2.25" fill="#000"/>
<circle cx="355.0" cy="338.9" r="2.25" fill="#000"/>
<circle cx="360.0" cy="337.5" r="2.25" fill="#000"/>
<circle cx="363.1" cy="337.9" r="2.25" fill="#000"/>
<circle cx="368.2" cy="338.2" r="2.25" fill="#000"/>
<circle cx="373.3" cy="337.9" r="2.25" fill="#000"/>
<circle cx="378.1" cy="338.8" r="2.25" fill="#000"/>
<circle cx="382.0" cy="338.9" r="2.25" fill="#000"/>
<circle cx="386.0" cy="337.7" r="2.25" fill="#000"/>
<circle cx="390.5" cy="338.4" r="2.25" fill="#000"/>
<circle cx="394.9" cy="338.2" r="2.25" fill="#000"/>
<circle cx="398.9" cy="338.3" r="2.25" fill="#000"/>
<circle cx="403.2" cy="337.5" r="2.25" fill="#000"/>
<circle cx="407.2" cy="338.9" r="2.25" fill="#000"/>
<circle cx="412.3" cy="338.2" r="2.25" fill="#000"/>
<circle cx="416.3" cy="338.7" r="2.25" fill="#000"/>
<circle cx="421.7" cy="337.9" r="2.25" fill="#000"/>
<circle cx="425.9" cy="338.9" r="2.25" fill="#000"/>
<circle cx="430.0" cy="337.4" r="2.25" fill="#000"/>
<circle cx="432.8" cy="338.5" r="2.25" fill="#000"/>
<circle cx="437.2" cy="338.4" r="2.25" fill="#000"/>
<circle cx="441.6" cy="337.6" r="2.25" fill="#000"/>
<circle cx="445.2" cy="337.7" r="2.25" fill="#000"/>
<circle cx="450.1" cy="338.0" r="2.25" fill="#000"/>
<circle cx="454.6" cy="337.7" r="2.25" fill="#000"/>
<circle cx="458.7" cy="338.4" r="2.25" fill="#000"/>
<circle cx="463.7" cy="338.4" r="2.25" fill="#000"/>
<circle cx="467.7" cy="338.6" r="2.25" fill="#000"/>
<circle cx="474.2" cy="337.9" r="2.25" fill="#000"/>
<circle cx="478.3" cy="337.7" r="2.25" fill="#000"/>
<path d="M566,330 L620,331 L659,331.5 L659,338.5 L566,338.5Z" fill="#c9c5c5"/>
<path d="M586.5,333.2L589.7,336.4M589.7,333.2L586.5,336.4" stroke="#7c7478" stroke-width="1.1"/>
<path d="M598.8,333.6L602.0,336.8M602.0,333.6L598.8,336.8" stroke="#7c7478" stroke-width="1.1"/>
<path d="M622.6,329.9L625.8,333.1M625.8,329.9L622.6,333.1" stroke="#7c7478" stroke-width="1.1"/>
<path d="M565.6,335.3L568.8,338.5M568.8,335.3L565.6,338.5" stroke="#7c7478" stroke-width="1.1"/>
<path d="M588.5,331.0L591.7,334.2M591.7,331.0L588.5,334.2" stroke="#7c7478" stroke-width="1.1"/>
<path d="M657.0,332.7L660.2,335.9M660.2,332.7L657.0,335.9" stroke="#7c7478" stroke-width="1.1"/>
<path d="M642.2,332.7L645.4,335.9M645.4,332.7L642.2,335.9" stroke="#7c7478" stroke-width="1.1"/>
<path d="M623.8,330.5L627.0,333.7M627.0,330.5L623.8,333.7" stroke="#7c7478" stroke-width="1.1"/>
<path d="M623.4,335.5L626.6,338.7M626.6,335.5L623.4,338.7" stroke="#7c7478" stroke-width="1.1"/>
<path d="M613.1,334.6L616.3,337.8M616.3,334.6L613.1,337.8" stroke="#7c7478" stroke-width="1.1"/>
<path d="M626.8,329.8L630.0,333.0M630.0,329.8L626.8,333.0" stroke="#7c7478" stroke-width="1.1"/>
<path d="M634.9,333.5L638.1,336.7M638.1,333.5L634.9,336.7" stroke="#7c7478" stroke-width="1.1"/>
<path d="M592.4,329.6L595.6,332.8M595.6,329.6L592.4,332.8" stroke="#7c7478" stroke-width="1.1"/>
<path d="M644.9,332.7L648.1,335.9M648.1,332.7L644.9,335.9" stroke="#7c7478" stroke-width="1.1"/>
<path d="M631.3,335.6L634.5,338.8M634.5,335.6L631.3,338.8" stroke="#7c7478" stroke-width="1.1"/>
<path d="M630.8,335.8L634.0,339.0M634.0,335.8L630.8,339.0" stroke="#7c7478" stroke-width="1.1"/>
<path d="M601.1,335.0L604.3,338.2M604.3,335.0L601.1,338.2" stroke="#7c7478" stroke-width="1.1"/>
<path d="M605.7,335.9L608.9,339.1M608.9,335.9L605.7,339.1" stroke="#7c7478" stroke-width="1.1"/>
<path d="M646.1,330.1L649.3,333.3M649.3,330.1L646.1,333.3" stroke="#7c7478" stroke-width="1.1"/>
<path d="M577.0,330.9L580.2,334.1M580.2,330.9L577.0,334.1" stroke="#7c7478" stroke-width="1.1"/>
<path d="M654.2,332.5L657.4,335.7M657.4,332.5L654.2,335.7" stroke="#7c7478" stroke-width="1.1"/>
<path d="M622.7,331.5L625.9,334.7M625.9,331.5L622.7,334.7" stroke="#7c7478" stroke-width="1.1"/>
<path d="M611.6,332.1L614.8,335.3M614.8,332.1L611.6,335.3" stroke="#7c7478" stroke-width="1.1"/>
<path d="M597.0,333.5L600.2,336.7M600.2,333.5L597.0,336.7" stroke="#7c7478" stroke-width="1.1"/>
<path d="M618.7,335.7L621.9,338.9M621.9,335.7L618.7,338.9" stroke="#7c7478" stroke-width="1.1"/>
<path d="M627.8,335.9L631.0,339.1M631.0,335.9L627.8,339.1" stroke="#7c7478" stroke-width="1.1"/>
<path d="M644.0,336.3L647.2,339.5M647.2,336.3L644.0,339.5" stroke="#7c7478" stroke-width="1.1"/>
<path d="M626.8,330.5L630.0,333.7M630.0,330.5L626.8,333.7" stroke="#7c7478" stroke-width="1.1"/>
<path d="M644.4,336.2L647.6,339.4M647.6,336.2L644.4,339.4" stroke="#7c7478" stroke-width="1.1"/>
<path d="M648.5,333.4L651.7,336.6M651.7,333.4L648.5,336.6" stroke="#7c7478" stroke-width="1.1"/>
<path d="M630.8,330.9L634.0,334.1M634.0,330.9L630.8,334.1" stroke="#7c7478" stroke-width="1.1"/>
<path d="M641.7,333.4L644.9,336.6M644.9,333.4L641.7,336.6" stroke="#7c7478" stroke-width="1.1"/>
<path d="M590.9,329.8L594.1,333.0M594.1,329.8L590.9,333.0" stroke="#7c7478" stroke-width="1.1"/>
<path d="M643.8,336.3L647.0,339.5M647.0,336.3L643.8,339.5" stroke="#7c7478" stroke-width="1.1"/>
<path d="M572.6,335.0L575.8,338.2M575.8,335.0L572.6,338.2" stroke="#7c7478" stroke-width="1.1"/>
<path d="M602.6,330.5L605.8,333.7M605.8,330.5L602.6,333.7" stroke="#7c7478" stroke-width="1.1"/>
<path d="M591.7,334.8L594.9,338.0M594.9,334.8L591.7,338.0" stroke="#7c7478" stroke-width="1.1"/>
<path d="M645.6,329.7L648.8,332.9M648.8,329.7L645.6,332.9" stroke="#7c7478" stroke-width="1.1"/>
<path d="M621.6,329.7L624.8,332.9M624.8,329.7L621.6,332.9" stroke="#7c7478" stroke-width="1.1"/>
<path d="M631.2,331.7L634.4,334.9M634.4,331.7L631.2,334.9" stroke="#7c7478" stroke-width="1.1"/>
<path d="M646.3,336.3L649.5,339.5M649.5,336.3L646.3,339.5" stroke="#7c7478" stroke-width="1.1"/>
<path d="M611.4,336.4L614.6,339.6M614.6,336.4L611.4,339.6" stroke="#7c7478" stroke-width="1.1"/>
<path d="M593.2,329.9L596.4,333.1M596.4,329.9L593.2,333.1" stroke="#7c7478" stroke-width="1.1"/>
<path d="M620.2,329.6L623.4,332.8M623.4,329.6L620.2,332.8" stroke="#7c7478" stroke-width="1.1"/>
<path d="M582.8,332.3L586.0,335.5M586.0,332.3L582.8,335.5" stroke="#7c7478" stroke-width="1.1"/>
<path d="M621.2,330.5L624.4,333.7M624.4,330.5L621.2,333.7" stroke="#7c7478" stroke-width="1.1"/>
<path d="M568.3,335.5L571.5,338.7M571.5,335.5L568.3,338.7" stroke="#7c7478" stroke-width="1.1"/>
<path d="M593.6,336.1L596.8,339.3M596.8,336.1L593.6,339.3" stroke="#7c7478" stroke-width="1.1"/>
<path d="M647.8,332.0L651.0,335.2M651.0,332.0L647.8,335.2" stroke="#7c7478" stroke-width="1.1"/>
<path d="M607.2,333.0L610.4,336.2M610.4,333.0L607.2,336.2" stroke="#7c7478" stroke-width="1.1"/>
<path d="M624.3,333.6L627.5,336.8M627.5,333.6L624.3,336.8" stroke="#7c7478" stroke-width="1.1"/>
<path d="M616.4,333.7L619.6,336.9M619.6,333.7L616.4,336.9" stroke="#7c7478" stroke-width="1.1"/>
<path d="M651.9,332.9L655.1,336.1M655.1,332.9L651.9,336.1" stroke="#7c7478" stroke-width="1.1"/>
<path d="M604.5,334.4L607.7,337.6M607.7,334.4L604.5,337.6" stroke="#7c7478" stroke-width="1.1"/>
<path d="M586.5,331.5L589.7,334.7M589.7,331.5L586.5,334.7" stroke="#7c7478" stroke-width="1.1"/>
<path d="M655.3,333.0L658.5,336.2M658.5,333.0L655.3,336.2" stroke="#7c7478" stroke-width="1.1"/>
<path d="M615.4,329.5L618.6,332.7M618.6,329.5L615.4,332.7" stroke="#7c7478" stroke-width="1.1"/>
<path d="M603.0,333.5L606.2,336.7M606.2,333.5L603.0,336.7" stroke="#7c7478" stroke-width="1.1"/>
<path d="M566.3,333.7L569.5,336.9M569.5,333.7L566.3,336.9" stroke="#7c7478" stroke-width="1.1"/>
<path d="M623.2,329.8L626.4,333.0M626.4,329.8L623.2,333.0" stroke="#7c7478" stroke-width="1.1"/>
<path d="M622.7,332.7L625.9,335.9M625.9,332.7L622.7,335.9" stroke="#7c7478" stroke-width="1.1"/>
<path d="M627.6,331.9L630.8,335.1M630.8,331.9L627.6,335.1" stroke="#7c7478" stroke-width="1.1"/>
<path d="M630.1,334.6L633.3,337.8M633.3,334.6L630.1,337.8" stroke="#7c7478" stroke-width="1.1"/>
<path d="M566.5,329.8L569.7,333.0M569.7,329.8L566.5,333.0" stroke="#7c7478" stroke-width="1.1"/>
<path d="M627.3,336.1L630.5,339.3M630.5,336.1L627.3,339.3" stroke="#7c7478" stroke-width="1.1"/>
<path d="M587.8,332.6L591.0,335.8M591.0,332.6L587.8,335.8" stroke="#7c7478" stroke-width="1.1"/>
<path d="M619.5,331.6L622.7,334.8M622.7,331.6L619.5,334.8" stroke="#7c7478" stroke-width="1.1"/>
<path d="M598.2,331.6L601.4,334.8M601.4,331.6L598.2,334.8" stroke="#7c7478" stroke-width="1.1"/>
<path d="M598.7,333.6L601.9,336.8M601.9,333.6L598.7,336.8" stroke="#7c7478" stroke-width="1.1"/>
<path d="M592.3,332.0L595.5,335.2M595.5,332.0L592.3,335.2" stroke="#7c7478" stroke-width="1.1"/>
<path d="M636.2,329.6L639.4,332.8M639.4,329.6L636.2,332.8" stroke="#7c7478" stroke-width="1.1"/>
<path d="M617.3,334.5L620.5,337.7M620.5,334.5L617.3,337.7" stroke="#7c7478" stroke-width="1.1"/>
<path d="M593.2,331.0L596.4,334.2M596.4,331.0L593.2,334.2" stroke="#7c7478" stroke-width="1.1"/>
<path d="M639.2,331.1L642.4,334.3M642.4,331.1L639.2,334.3" stroke="#7c7478" stroke-width="1.1"/>
<path d="M581.8,332.4L585.0,335.6M585.0,332.4L581.8,335.6" stroke="#7c7478" stroke-width="1.1"/>
<path d="M629.3,330.1L632.5,333.3M632.5,330.1L629.3,333.3" stroke="#7c7478" stroke-width="1.1"/>
<path d="M594.3,331.7L597.5,334.9M597.5,331.7L594.3,334.9" stroke="#7c7478" stroke-width="1.1"/>
<path d="M641.9,332.5L645.1,335.7M645.1,332.5L641.9,335.7" stroke="#7c7478" stroke-width="1.1"/>
<path d="M644.0,330.6L647.2,333.8M647.2,330.6L644.0,333.8" stroke="#7c7478" stroke-width="1.1"/>
<path d="M595.7,334.0L598.9,337.2M598.9,334.0L595.7,337.2" stroke="#7c7478" stroke-width="1.1"/>
<path d="M646.7,332.6L649.9,335.8M649.9,332.6L646.7,335.8" stroke="#7c7478" stroke-width="1.1"/>
<path d="M585.3,330.2L588.5,333.4M588.5,330.2L585.3,333.4" stroke="#7c7478" stroke-width="1.1"/>
<path d="M613.7,330.7L616.9,333.9M616.9,330.7L613.7,333.9" stroke="#7c7478" stroke-width="1.1"/>
<path d="M639.4,335.3L642.6,338.5M642.6,335.3L639.4,338.5" stroke="#7c7478" stroke-width="1.1"/>
<path d="M581.5,331.4L584.7,334.6M584.7,331.4L581.5,334.6" stroke="#7c7478" stroke-width="1.1"/>
<path d="M639.5,333.9L642.7,337.1M642.7,333.9L639.5,337.1" stroke="#7c7478" stroke-width="1.1"/>
<path d="M639.4,331.8L642.6,335.0M642.6,331.8L639.4,335.0" stroke="#7c7478" stroke-width="1.1"/>
<path d="M576.5,331.4L579.7,334.6M579.7,331.4L576.5,334.6" stroke="#7c7478" stroke-width="1.1"/>
<path d="M638.2,331.3L641.4,334.5M641.4,331.3L638.2,334.5" stroke="#7c7478" stroke-width="1.1"/>
<path d="M596.6,332.3L599.8,335.5M599.8,332.3L596.6,335.5" stroke="#7c7478" stroke-width="1.1"/>
<path d="M603.4,332.3L606.6,335.5M606.6,332.3L603.4,335.5" stroke="#7c7478" stroke-width="1.1"/>
<path d="M650.0,330.5L653.2,333.7M653.2,330.5L650.0,333.7" stroke="#7c7478" stroke-width="1.1"/>
<path d="M564.8,336.0L568.0,339.2M568.0,336.0L564.8,339.2" stroke="#7c7478" stroke-width="1.1"/>
<path d="M646.2,336.3L649.4,339.5M649.4,336.3L646.2,339.5" stroke="#7c7478" stroke-width="1.1"/>
<path d="M604.8,336.1L608.0,339.3M608.0,336.1L604.8,339.3" stroke="#7c7478" stroke-width="1.1"/>
<path d="M650.6,331.0L653.8,334.2M653.8,331.0L650.6,334.2" stroke="#7c7478" stroke-width="1.1"/>
<path d="M633.7,335.3L636.9,338.5M636.9,335.3L633.7,338.5" stroke="#7c7478" stroke-width="1.1"/>
<path d="M626.1,333.0L629.3,336.2M629.3,333.0L626.1,336.2" stroke="#7c7478" stroke-width="1.1"/>
<path d="M591.3,331.8L594.5,335.0M594.5,331.8L591.3,335.0" stroke="#7c7478" stroke-width="1.1"/>
<path d="M585.6,329.9L588.8,333.1M588.8,329.9L585.6,333.1" stroke="#7c7478" stroke-width="1.1"/>
<path d="M619.1,331.4L622.3,334.6M622.3,331.4L619.1,334.6" stroke="#7c7478" stroke-width="1.1"/>
<path d="M639.7,329.7L642.9,332.9M642.9,329.7L639.7,332.9" stroke="#7c7478" stroke-width="1.1"/>
<path d="M648.4,334.3L651.6,337.5M651.6,334.3L648.4,337.5" stroke="#7c7478" stroke-width="1.1"/>
<path d="M650.3,335.7L653.5,338.9M653.5,335.7L650.3,338.9" stroke="#7c7478" stroke-width="1.1"/>
<path d="M648.1,333.4L651.3,336.6M651.3,333.4L648.1,336.6" stroke="#7c7478" stroke-width="1.1"/>
<path d="M565.6,334.6L568.8,337.8M568.8,334.6L565.6,337.8" stroke="#7c7478" stroke-width="1.1"/>
<path d="M580.4,331.5L583.6,334.7M583.6,331.5L580.4,334.7" stroke="#7c7478" stroke-width="1.1"/>
<path d="M626.0,333.1L629.2,336.3M629.2,333.1L626.0,336.3" stroke="#7c7478" stroke-width="1.1"/>
<path d="M602.9,336.0L606.1,339.2M606.1,336.0L602.9,339.2" stroke="#7c7478" stroke-width="1.1"/>
<path d="M621.3,331.8L624.5,335.0M624.5,331.8L621.3,335.0" stroke="#7c7478" stroke-width="1.1"/>
<circle cx="614.9" cy="336.7" r="1.5" fill="#444"/>
<circle cx="628.2" cy="336.3" r="1.5" fill="#444"/>
<circle cx="620.8" cy="333.1" r="1.5" fill="#444"/>
<circle cx="631.5" cy="336.5" r="1.5" fill="#444"/>
<circle cx="610.1" cy="336.4" r="1.5" fill="#444"/>
<circle cx="654.4" cy="336.4" r="1.5" fill="#444"/>
<circle cx="648.6" cy="332.0" r="1.5" fill="#444"/>
<circle cx="637.1" cy="336.7" r="1.5" fill="#444"/>
<circle cx="602.9" cy="333.5" r="1.5" fill="#444"/>
<circle cx="615.8" cy="334.9" r="1.5" fill="#444"/>
<circle cx="625.0" cy="334.6" r="1.5" fill="#444"/>
<circle cx="645.8" cy="332.0" r="1.5" fill="#444"/>
<circle cx="603.2" cy="332.7" r="1.5" fill="#444"/>
<circle cx="607.4" cy="332.4" r="1.5" fill="#444"/>
<rect x="645" y="331" width="14" height="7" fill="#555" opacity="0.6"/>
<path d="M218.0,226.6 L223.5,230.5 L229.1,234.2 L234.6,237.8 L240.1,241.3 L245.6,244.6 L251.2,247.9 L256.7,251.0 L262.2,254.0 L267.7,256.9 L273.2,259.7 L278.8,262.5 L284.3,265.1 L289.8,267.6 L295.4,270.1 L300.9,272.4 L306.4,274.7 L311.9,276.9 L317.4,279.1 L323.0,281.1 L328.5,283.1 L334.0,285.1 L339.6,286.9 L345.1,288.7 L350.6,290.4 L356.1,292.1 L361.6,293.7 L367.2,295.3 L372.7,296.8 L378.2,298.3 L383.8,299.7 L389.3,301.0 L394.8,302.3 L400.3,303.6 L405.9,304.8 L411.4,306.0 L416.9,307.2 L422.4,308.3 L427.9,309.3 L433.5,310.4 L439.0,311.4 L444.5,312.3 L450.1,313.2 L455.6,314.1 L461.1,315.0 L466.6,315.8 L472.1,316.6 L477.7,317.4 L483.2,318.2 L488.7,318.9 L494.2,319.6 L499.8,320.3 L505.3,320.9 L510.8,321.6 L516.4,322.2 L521.9,322.8 L527.4,323.4 L532.9,323.9 L538.5,324.4 L544.0,324.9 L549.5,325.4 L555.0,325.9 L560.5,326.4 L566.1,326.8 L571.6,327.3 L577.1,327.7 L582.6,328.1 L588.2,328.5 L593.7,328.9 L599.2,329.2 L604.8,329.6 L610.3,329.9 L615.8,330.2 L621.3,330.6 L626.9,330.9 L632.4,331.2 L637.9,331.4 L643.4,331.7 L649.0,332.0 L654.5,332.2 L660.0,332.5" fill="none" stroke="#111" stroke-width="2.4"/>
<rect x="239.5" y="146" width="49" height="40" fill="#fff"/>
<rect x="121.5" y="21.2" width="6" height="2.6" rx="1" fill="#a08282"/>
<rect x="122" y="14.5" width="5" height="2" rx="1" fill="#c8bcc0"/>
<line x1="214.4" y1="169" x2="214.4" y2="262.7" stroke="#c06468" stroke-width="2" stroke-dasharray="7 3.3"/>
<path d="M211.4,262.5L217.4,262.5L214.4,268.5Z" fill="#c02238"/>
<circle cx="213.3" cy="277.5" r="3.3" fill="#cc1e3c"/>
<text transform="translate(215.8,133.3) scale(1,0.93)" font-size="12" font-weight="bold" fill="#222" stroke="#222" stroke-width="0.45" text-anchor="middle">Algiers</text>
<text transform="translate(215.8,147.1) scale(1,0.93)" font-size="12" font-weight="bold" fill="#222" stroke="#222" stroke-width="0.45" text-anchor="middle">Algeria</text>
<text transform="translate(215.8,160.9) scale(1,0.93)" font-size="12" font-weight="bold" fill="#222" stroke="#222" stroke-width="0.45" text-anchor="middle">(2001)</text>
<line x1="262" y1="188" x2="262" y2="253.5" stroke="#c06468" stroke-width="2" stroke-dasharray="7 3.3"/>
<path d="M259,253.3L265,253.3L262,259.3Z" fill="#c02238"/>
<circle cx="262" cy="266.5" r="3.3" fill="#cc1e3c"/>
<text transform="translate(264.4,155.0) scale(1,0.93)" font-size="12" font-weight="bold" fill="#222" stroke="#222" stroke-width="0.45" text-anchor="middle">Biescas</text>
<text transform="translate(264.4,168.8) scale(1,0.93)" font-size="12" font-weight="bold" fill="#222" stroke="#222" stroke-width="0.45" text-anchor="middle">Spain</text>
<text transform="translate(264.4,182.6) scale(1,0.93)" font-size="12" font-weight="bold" fill="#222" stroke="#222" stroke-width="0.45" text-anchor="middle">(1996)</text>
<line x1="321.3" y1="221" x2="321.3" y2="273.2" stroke="#c06468" stroke-width="2" stroke-dasharray="7 3.3"/>
<path d="M318.3,273.0L324.3,273.0L321.3,279.0Z" fill="#c02238"/>
<circle cx="322.6" cy="283" r="3.3" fill="#cc1e3c"/>
<text transform="translate(309.4,188.3) scale(1,0.93)" font-size="12" font-weight="bold" fill="#222" stroke="#222" stroke-width="0.45" text-anchor="middle">Nimes</text>
<text transform="translate(309.4,202.1) scale(1,0.93)" font-size="12" font-weight="bold" fill="#222" stroke="#222" stroke-width="0.45" text-anchor="middle">France</text>
<text transform="translate(309.4,215.9) scale(1,0.93)" font-size="12" font-weight="bold" fill="#222" stroke="#222" stroke-width="0.45" text-anchor="middle">(1988)</text>
<line x1="332.3" y1="150" x2="332.3" y2="292" stroke="#c06468" stroke-width="2" stroke-dasharray="7 3.3"/>
<path d="M329.3,291.8L335.3,291.8L332.3,297.8Z" fill="#c02238"/>
<circle cx="330.7" cy="305.8" r="3.3" fill="#cc1e3c"/>
<text transform="translate(329.7,115.1) scale(1,0.93)" font-size="12" font-weight="bold" fill="#222" stroke="#222" stroke-width="0.45" text-anchor="middle">Barcelona</text>
<text transform="translate(329.7,128.9) scale(1,0.93)" font-size="12" font-weight="bold" fill="#222" stroke="#222" stroke-width="0.45" text-anchor="middle">Spain</text>
<text transform="translate(329.7,142.7) scale(1,0.93)" font-size="12" font-weight="bold" fill="#222" stroke="#222" stroke-width="0.45" text-anchor="middle">(1962)</text>
<line x1="360.3" y1="231" x2="360.3" y2="284" stroke="#c06468" stroke-width="2" stroke-dasharray="7 3.3"/>
<path d="M357.3,283.8L363.3,283.8L360.3,289.8Z" fill="#c02238"/>
<circle cx="359.2" cy="296" r="3.3" fill="#cc1e3c"/>
<text transform="translate(354.8,196.3) scale(1,0.93)" font-size="12" font-weight="bold" fill="#222" stroke="#222" stroke-width="0.45" text-anchor="middle">Gard</text>
<text transform="translate(354.8,210.1) scale(1,0.93)" font-size="12" font-weight="bold" fill="#222" stroke="#222" stroke-width="0.45" text-anchor="middle">France</text>
<text transform="translate(354.8,223.9) scale(1,0.93)" font-size="12" font-weight="bold" fill="#222" stroke="#222" stroke-width="0.45" text-anchor="middle">(2002)</text>
<line x1="376.3" y1="170" x2="376.3" y2="291.5" stroke="#c06468" stroke-width="2" stroke-dasharray="7 3.3"/>
<path d="M373.3,291.3L379.3,291.3L376.3,297.3Z" fill="#c02238"/>
<circle cx="375.2" cy="305.2" r="3.3" fill="#cc1e3c"/>
<text transform="translate(376.6,137.6) scale(1,0.93)" font-size="12" font-weight="bold" fill="#222" stroke="#222" stroke-width="0.45" text-anchor="middle">Genoa</text>
<text transform="translate(376.6,151.4) scale(1,0.93)" font-size="12" font-weight="bold" fill="#222" stroke="#222" stroke-width="0.45" text-anchor="middle">Italy</text>
<text transform="translate(376.6,165.2) scale(1,0.93)" font-size="12" font-weight="bold" fill="#222" stroke="#222" stroke-width="0.45" text-anchor="middle">(1970)</text>
<line x1="447.9" y1="274.5" x2="447.9" y2="301.4" stroke="#c06468" stroke-width="2" stroke-dasharray="7 3.3"/>
<path d="M444.9,301.2L450.9,301.2L447.9,307.2Z" fill="#c02238"/>
<circle cx="447.9" cy="317.7" r="3.3" fill="#cc1e3c"/>
<text transform="translate(446.6,241.9) scale(1,0.93)" font-size="12" font-weight="bold" fill="#222" stroke="#222" stroke-width="0.45" text-anchor="middle">Ardèche</text>
<text transform="translate(446.6,255.7) scale(1,0.93)" font-size="12" font-weight="bold" fill="#222" stroke="#222" stroke-width="0.45" text-anchor="middle">France</text>
<text transform="translate(446.6,269.5) scale(1,0.93)" font-size="12" font-weight="bold" fill="#222" stroke="#222" stroke-width="0.45" text-anchor="middle">(1958)</text>
<text transform="translate(102.8,91.3) rotate(55)" font-size="13.9" font-weight="bold" fill="#3a3a3a" stroke="#3a3a3a" stroke-width="0.3">Q<tspan font-size="8" dy="2">L</tspan><tspan dy="-2" letter-spacing="-0.3"> = 100 A</tspan><tspan font-size="7.5" dy="-3" fill="#777" stroke-width="0.2">-0.4</tspan></text>
<text transform="translate(80.8,194.6) rotate(40.5)" font-size="11.5" font-weight="bold" fill="#3a3a3a" stroke="#3a3a3a" stroke-width="0.3">Q<tspan font-size="7" dy="2">L</tspan><tspan dy="-2" fill="#888" stroke="#888"> = </tspan><tspan>50 A</tspan><tspan font-size="7.5" dy="-3" fill="#777" stroke-width="0.2">-0.4</tspan></text>
<rect x="471" y="6.5" width="188" height="164" fill="#fff"/>
<text x="514.3" y="24.4" font-size="13.75" fill="#262626">Rodier &amp; Roche (1984)</text>
<text x="514.3" y="52.1" font-size="13.75" fill="#262626">Pardé (1961)</text>
<text x="514.3" y="79.3" font-size="13.75" fill="#262626">Costa (1987)</text>
<text x="514.3" y="104.6" font-size="13.75" fill="#262626">HYDRATE (2009)</text>
<text x="514.3" y="131.5" font-size="13.75" fill="#262626">HYDRATE envelop</text>
<text x="514.3" y="155.9" font-size="13.75" fill="#262626">Record Events</text>
<rect x="502.5" y="17.5" width="2.5" height="2.5" fill="#8a6a70"/>
<path d="M501.7,42.7L505.7,46.7M505.7,42.7L501.7,46.7" stroke="#bbb" stroke-width="1"/>
<path d="M503.7,70.5L505.5,73.5L501.9,73.5Z" fill="#c8b0b0"/>
<circle cx="503.7" cy="99.1" r="1.9" fill="#000"/>
<line x1="493.5" y1="124.8" x2="511.5" y2="124.8" stroke="#222" stroke-width="2"/>
<circle cx="503" cy="151.2" r="2.8" fill="#b82035"/>
<g font-size="17" fill="#111" text-anchor="end">
<text x="57.4" y="12.9">120</text>
<text x="57.4" y="69">100</text>
<text x="57.4" y="123.6">80</text>
<text x="57.4" y="177.5">60</text>
<text x="57.4" y="233">40</text>
<text x="57.4" y="288.6">20</text>
<text x="57.4" y="343.8">0</text>
</g>
<g font-size="16.5" fill="#111" text-anchor="middle">
<text x="74.8" y="364.6">1</text>
<text x="222.6" y="364.6">10</text>
<text x="368.6" y="364.6">100</text>
<text x="513.2" y="364.6">1000</text>
<text x="660.7" y="364.6">10000</text>
</g>
<text x="310.8" y="389.4" font-size="16" font-weight="bold" fill="#111" textLength="169" lengthAdjust="spacingAndGlyphs">Watershed area (km²)</text>
<text transform="translate(13.7,253.5) rotate(-90)" font-size="16" font-weight="bold" fill="#111" textLength="163.3" lengthAdjust="spacingAndGlyphs">Discharge (m³/s/km²)</text>
</g>
</svg>
</body></html>
